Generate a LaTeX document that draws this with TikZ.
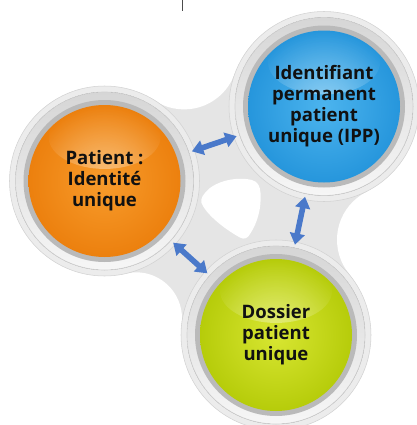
\documentclass[tikz,border=0pt]{standalone}
\usepackage{fontspec}
\setsansfont{Open Sans}
\usetikzlibrary{arrows.meta,calc,fadings}

\definecolor{blobgray}{RGB}{229,229,229}
\definecolor{ringout}{RGB}{236,236,236}
\definecolor{ringline}{RGB}{210,210,210}
\definecolor{rimtop}{RGB}{214,214,214}
\definecolor{rimbot}{RGB}{246,246,246}
\definecolor{darkring}{RGB}{186,186,186}
\definecolor{orangein}{RGB}{248,156,44}
\definecolor{orangeout}{RGB}{236,128,14}
\definecolor{bluein}{RGB}{76,180,238}
\definecolor{blueout}{RGB}{38,150,220}
\definecolor{greenin}{RGB}{216,230,50}
\definecolor{greenout}{RGB}{182,204,10}
\definecolor{arrowblue}{RGB}{74,121,202}
\definecolor{textblack}{RGB}{17,17,17}

\tikzfading[name=glossfade, inner color=transparent!60, outer color=transparent!100]

\tikzset{
  disc/.style={circle, minimum size=114pt, inner sep=0pt, align=center,
    font=\sffamily\bfseries\fontsize{13.9}{15.8}\selectfont, text=textblack,
    path picture={\fill[white, path fading=glossfade]
      ($(path picture bounding box.center)!0.58!(path picture bounding box.north)$)
      ellipse [x radius=42pt, y radius=24pt];}},
  biarrow/.style={draw=arrowblue, line width=4.2pt,
    {Triangle[width=11pt,length=8.5pt]}-{Triangle[width=11pt,length=8.5pt]},
    shorten <=12pt, shorten >=12pt}
}

\begin{document}
\begin{tikzpicture}[x=0.75pt,y=0.75pt,yscale=-1,xscale=1]
\path[use as bounding box] (0,0) rectangle (417,425);
\clip (0,0) rectangle (417,425);

% centres of the three discs
\coordinate (cO) at (104.5,181);
\coordinate (cB) at (324,106.5);
\coordinate (cG) at (276,335);

%Shape: gray blob between the discs
\fill[blobgray] (cO) -- (184.1,55.8) -- (cB) -- (390.6,239.8) -- (cG) -- (136,318.3) -- cycle;
\fill[white] (184.1,55.8) circle (53.6);
\fill[white] (390.6,239.8) circle (53.6);
\fill[white] (136,318.3) circle (46);

%Shape: hole in the middle
\fill[white] (205,193) .. controls (213,182) and (235,176) .. (252,180)
  .. controls (258,182) and (260,186) .. (260.5,193)
  .. controls (261.5,207) and (258,222) .. (250,234)
  .. controls (248,238) and (244,240) .. (240,237.5)
  .. controls (228,231) and (210,218) .. (203,206)
  .. controls (200,202) and (201,197) .. cycle;

%Shape: rings round each disc
\foreach \c in {cO,cB,cG} {
  \filldraw[fill=ringout, draw=ringline, line width=0.4pt] (\c) circle (95);
  \filldraw[top color=rimtop, bottom color=rimbot, draw=ringline, line width=0.5pt] (\c) circle (89);
  \fill[darkring] (\c) circle (81);
}

% Discs
\node[disc, inner color=orangein, outer color=orangeout] (patient) at (cO) {Patient :\\Identité\\unique};
\node[disc, inner color=bluein, outer color=blueout] (ipp) at (cB) {Identifiant\\permanent\\patient\\unique (IPP)};
\node[disc, inner color=greenin, outer color=greenout] (dossier) at (cG) {Dossier\\patient\\unique};

% Arrows
\draw[biarrow] (patient) -- (ipp);
\draw[biarrow] (ipp) -- (dossier);
\draw[biarrow] (patient) -- (dossier);

%Straight Lines: small tick at the top
\draw[black!70, line width=0.6pt] (182,0) -- (182,11);

\end{tikzpicture}
\end{document}
